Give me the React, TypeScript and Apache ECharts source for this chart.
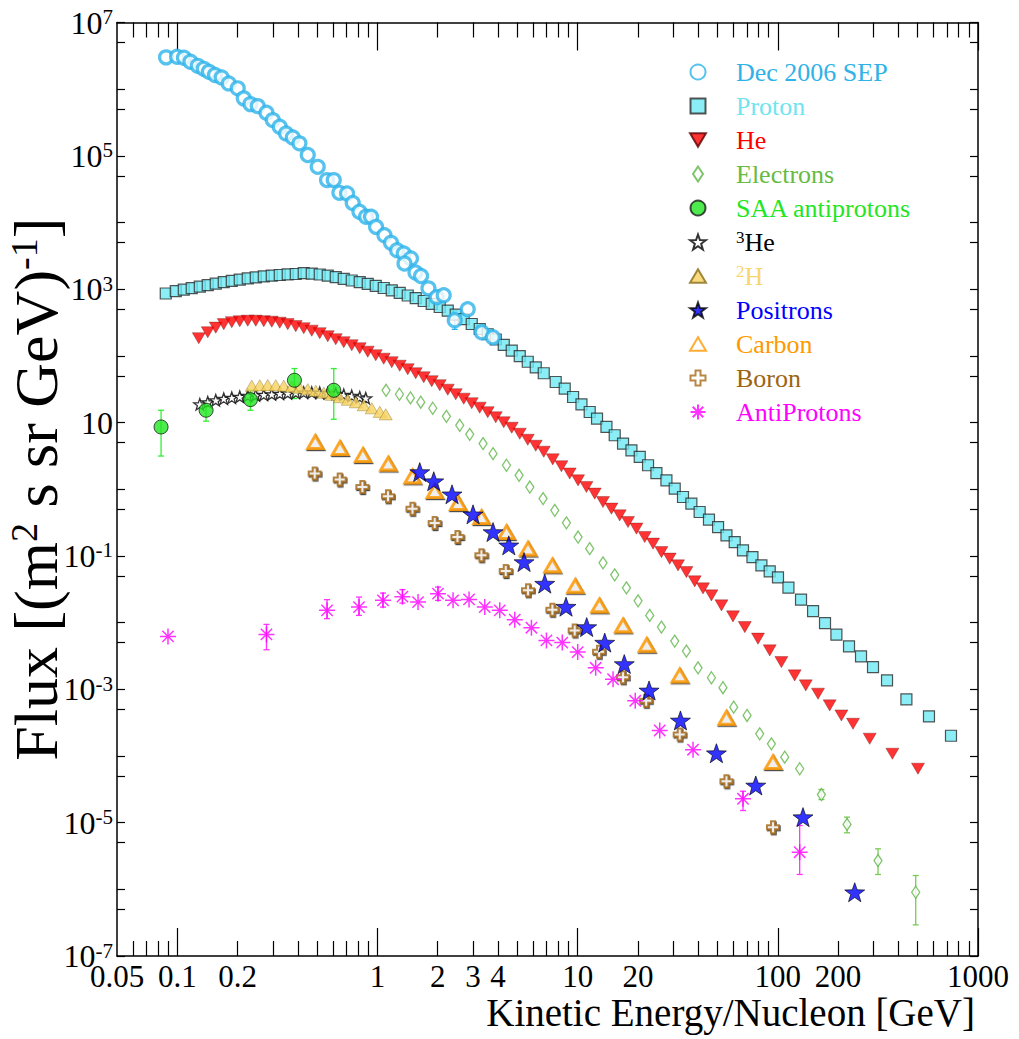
import React, { useEffect, useRef } from 'react';
import * as echarts from 'echarts';

// ---- Data: kinetic energy per nucleon [GeV] and flux [(m^2 s sr GeV)^-1] ----
const sepE = [0.0879, 0.0998, 0.108, 0.1164, 0.1266, 0.1356, 0.144, 0.1544, 0.1668, 0.1808, 0.2005, 0.2149, 0.232, 0.2524, 0.279, 0.3, 0.325, 0.3495, 0.3776, 0.4077, 0.4486, 0.503, 0.56, 0.605, 0.6457, 0.705, 0.7526, 0.813, 0.877, 0.929, 0.984, 1.084, 1.169, 1.253, 1.353, 1.47, 1.365, 1.549, 1.651, 1.798, 1.978, 2.143, 2.432, 2.825, 3.32, 3.77];
const sepF = [3.0e6, 3.06e6, 2.96e6, 2.58e6, 2.24e6, 2.02e6, 1.82e6, 1.63e6, 1.5e6, 1.22e6, 1.03e6, 7.28e5, 5.97e5, 5.57e5, 4.43e5, 3.44e5, 2.73e5, 2.17e5, 1.89e5, 1.54e5, 1.03e5, 6.85e4, 4.33e4, 4.33e4, 2.79e4, 2.73e4, 1.97e4, 1.45e4, 1.22e4, 1.22e4, 8610, 6470, 4960, 3850, 3440, 2890, 2430, 1780, 1580, 1030, 760, 813, 343, 500, 226, 190];
const sepErrE = [2.432];
const sepErrLo = [250];
const sepErrHi = [470];

const protonE = [0.0876, 0.0983, 0.1078, 0.1181, 0.1296, 0.142, 0.1557, 0.1707, 0.1872, 0.2052, 0.225, 0.2467, 0.2705, 0.2965, 0.3251, 0.3563, 0.3907, 0.4283, 0.4697, 0.5149, 0.5646, 0.619, 0.6786, 0.744, 0.8157, 0.8944, 0.9806, 1.075, 1.179, 1.292, 1.417, 1.553, 1.703, 1.867, 2.047, 2.245, 2.461, 2.698, 2.958, 3.243, 3.556, 3.899, 4.275, 4.687, 5.139, 5.634, 6.177, 6.773, 7.77, 8.62, 9.49, 10.45, 11.49, 12.5, 13.93, 15.32, 16.86, 18.57, 20.43, 22.48, 24.75, 27.77, 30.55, 33.6, 37.0, 40.7, 45.3, 50.3, 55.4, 60.9, 67.0, 74.7, 82.8, 91.1, 100.2, 113, 130.6, 150, 172.1, 196.2, 226.8, 260.4, 298.9, 351.2, 438.9, 569, 733];
const protonF = [863, 934, 984, 1036, 1091, 1149, 1210, 1274, 1333, 1390, 1449, 1500, 1553, 1596, 1635, 1669, 1692, 1740, 1710, 1663, 1596, 1515, 1433, 1352, 1274, 1202, 1125, 1043, 960, 881, 805, 733, 666, 604, 541, 476, 415, 355, 301, 253, 211, 176, 146, 120, 99.2, 81.7, 67.1, 54.9, 40.6, 32.4, 24.2, 18.8, 14.4, 11.48, 8.59, 6.45, 4.84, 3.84, 3.05, 2.29, 1.75, 1.36, 1.02, 0.765, 0.609, 0.4555, 0.35, 0.2713, 0.2036, 0.1615, 0.1213, 0.0962, 0.0722, 0.0587, 0.0477, 0.0334, 0.0221, 0.01489, 0.00984, 0.00659, 0.0044, 0.00311, 0.00215, 0.00136, 7.05e-4, 3.92e-4, 2.01e-4];

const heE = [0.1281, 0.142, 0.1557, 0.1707, 0.1872, 0.2052, 0.225, 0.2467, 0.2705, 0.2965, 0.3251, 0.3563, 0.3907, 0.4283, 0.4697, 0.5149, 0.5646, 0.619, 0.6786, 0.744, 0.8157, 0.8944, 0.9806, 1.075, 1.179, 1.292, 1.417, 1.553, 1.703, 1.867, 2.047, 2.245, 2.461, 2.698, 2.958, 3.243, 3.556, 3.899, 4.275, 4.687, 5.139, 5.634, 6.177, 6.773, 7.51, 8.3, 9.13, 10.05, 11.07, 12.17, 13.39, 14.75, 16.23, 17.85, 19.67, 21.64, 23.81, 26.22, 28.84, 31.73, 34.95, 38.45, 42.3, 46.6, 52.3, 59.7, 68.4, 79.6, 91.1, 104.2, 121.4, 137.9, 158.8, 181.6, 207.8, 237.5, 287.7, 373.6, 501.4];
const heF = [184, 226, 265, 299, 320, 331, 337, 337, 331, 325.6, 314.6, 299, 279, 260, 238.6, 218.8, 197.2, 177.8, 160.3, 144.5, 130.3, 115.5, 102.3, 90.7, 80.3, 71.2, 63.1, 54.9, 47.8, 41.7, 36.3, 31.1, 26.6, 22.8, 19.5, 16.7, 14.3, 12.0, 10.1, 8.36, 6.79, 5.52, 4.49, 3.65, 2.81, 2.21, 1.72, 1.36, 1.08, 0.86, 0.643, 0.512, 0.406, 0.3224, 0.2567, 0.192, 0.1528, 0.1143, 0.091, 0.0722, 0.0573, 0.0416, 0.0326, 0.0256, 0.01813, 0.0124, 0.00857, 0.00574, 0.00383, 0.002556, 0.001614, 0.001143, 8.58e-4, 5.73e-4, 4.05e-4, 3.04e-4, 1.81e-4, 1.08e-4, 6.43e-5];

const electronE = [1.104, 1.288, 1.462, 1.646, 1.889, 2.211, 2.577, 2.891, 3.37, 3.78, 4.41, 5.1, 5.77, 6.72, 7.69, 8.79, 10.05, 11.49, 13.39, 15.32, 17.53, 20.04, 22.92, 26.22, 30.55, 34.95, 39.95, 46.6, 53.2, 60.2, 70.2, 81.2, 92.9, 108.3, 128.6, 165.1, 221.7, 316.6, 488.5];
const electronF = [30.5, 26.6, 23.4, 20.2, 16.4, 12.4, 9.11, 6.67, 4.84, 3.42, 2.29, 1.62, 1.08, 0.724, 0.483, 0.3136, 0.192, 0.1286, 0.0787, 0.052, 0.0332, 0.0212, 0.01283, 0.00857, 0.00528, 0.00374, 0.0021, 0.00149, 0.001055, 5.4e-4, 4.05e-4, 2.15e-4, 1.52e-4, 9.6e-5, 6.43e-5, 2.64e-5, 9.4e-6, 2.7e-6, 9.04e-7];
const electronErrE = [165.1, 221.7, 316.6, 488.5];
const electronErrLo = [2.22e-5, 7.04e-6, 1.67e-6, 2.93e-7];
const electronErrHi = [3.14e-5, 1.21e-5, 4.05e-6, 1.61e-6];

const saaE = [0.083, 0.1393, 0.232, 0.3849, 0.605];
const saaF = [8.59, 15.3, 22.1, 43.1, 30.5];
const saaErrLo = [3.15, 10.5, 15.3, 22.9, 11.2];
const saaErrHi = [15.3, 20.9, 30.5, 64.6, 64.6];

const he3E = [0.1296, 0.142, 0.1557, 0.1707, 0.1872, 0.2052, 0.225, 0.2467, 0.2705, 0.2965, 0.3251, 0.3563, 0.3907, 0.4283, 0.4697, 0.5149, 0.5646, 0.619, 0.6786, 0.744, 0.8157, 0.874];
const he3F = [18.8, 20.2, 21.6, 22.8, 23.6, 24.4, 25.2, 25.7, 26.1, 26.6, 27.1, 27.5, 28.0, 28.2, 28.2, 28.0, 27.5, 27.1, 26.1, 25.2, 24.0, 23.2];

const h2E = [0.2356, 0.2583, 0.2831, 0.3105, 0.3404, 0.3731, 0.4091, 0.4486, 0.4917, 0.5393, 0.5911, 0.6482, 0.7106, 0.7791, 0.8542, 0.9365, 1.027, 1.1];
const h2F = [35.7, 36.3, 36.5, 36.3, 35.7, 34.4, 33.3, 31.6, 30.0, 28.0, 26.1, 24.0, 22.0, 20.2, 18.2, 16.4, 14.5, 13.3];

const positronE = [1.627, 1.911, 2.358, 3.003, 3.78, 4.53, 5.4, 6.85, 8.75, 11.1, 13.66, 17.1, 22.74, 32.63, 49.35, 77.6, 133.6, 242.2];
const positronF = [1.81, 1.32, 0.84, 0.4206, 0.228, 0.1441, 0.0809, 0.0384, 0.01733, 0.00857, 0.00501, 0.00239, 9.61e-4, 3.41e-4, 1.1e-4, 3.61e-5, 1.21e-5, 9.04e-7];

const carbonE = [0.489, 0.65, 0.846, 1.132, 1.496, 1.932, 2.527, 3.307, 4.41, 5.65, 7.48, 9.73, 12.84, 16.86, 22.14, 32.36, 55.4, 94.6];
const carbonF = [5.12, 4.16, 3.26, 2.42, 1.56, 0.941, 0.622, 0.383, 0.228, 0.1286, 0.0722, 0.0356, 0.01813, 0.00909, 0.00463, 0.001614, 3.74e-4, 8.07e-5];

const boronE = [0.486, 0.648, 0.841, 1.129, 1.496, 1.932, 2.51, 3.307, 4.375, 5.65, 7.48, 9.67, 12.79, 16.86, 21.99, 32.36, 55.4, 94.6];
const boronF = [1.72, 1.4, 1.08, 0.783, 0.512, 0.3114, 0.192, 0.102, 0.0593, 0.0305, 0.01563, 0.00764, 0.00367, 0.00152, 6.71e-4, 2.1e-4, 4.18e-5, 8.54e-6];

const antiprotonE = [0.0899, 0.279, 0.56, 0.809, 1.066, 1.333, 1.595, 2.007, 2.386, 2.868, 3.436, 4.083, 4.852, 5.877, 6.985, 8.38, 10.01, 12.31, 15.03, 19.4, 25.71, 37.71, 67.0, 128.6];
const antiprotonF = [0.00621, 0.00666, 0.01526, 0.0171, 0.02155, 0.02449, 0.02032, 0.02716, 0.02155, 0.0223, 0.0171, 0.01526, 0.01106, 0.00839, 0.00541, 0.00501, 0.00361, 0.0021, 0.001416, 6.73e-4, 2.41e-4, 1.24e-4, 2.28e-5, 3.6e-6];
const antiprotonErrE = [0.279, 0.56, 0.809, 1.066, 1.333, 2.007, 67.0, 128.6];
const antiprotonErrLo = [0.00392, 0.01145, 0.01283, 0.0171, 0.01963, 0.02155, 1.52e-5, 1.67e-6];
const antiprotonErrHi = [0.0094, 0.02208, 0.02415, 0.02773, 0.0312, 0.03412, 2.96e-5, 9.06e-6];

// Axis ticks and labels
const xLabelValues = [0.05, 0.1, 0.2, 1, 2, 3, 4, 10, 20, 100, 200, 1000];
const xMajorTicks = [0.1, 1, 10, 100, 1000];
const yLabelExponents = [7, 5, 3, 1, -1, -3, -5, -7];
const X_MIN = 0.05;
const X_MAX = 1000;

const FONT = '"Liberation Serif", "Times New Roman", serif';
const lg = Math.log10;

const points = (e: number[], f: number[]) => {
  const n = Math.min(e.length, f.length);
  const out: number[][] = [];
  for (let i = 0; i < n; i++) out.push([lg(e[i]), lg(f[i])]);
  return out;
};

const bars = (e: number[], lo: number[], hi: number[]) =>
  e.map((v, i) => [lg(v), lg(lo[i]), lg(hi[i])]);

// Marker outlines (paths keep their aspect ratio in the legend as well)
const STAR = 'path://M0,-10 L2.35,-3.24 L9.51,-3.09 L3.8,1.24 L5.88,8.09 L0,4 L-5.88,8.09 L-3.8,1.24 L-9.51,-3.09 L-2.35,-3.24 Z';
const CROSS = 'path://M-1,-3 L1,-3 L1,-1 L3,-1 L3,1 L1,1 L1,3 L-1,3 L-1,1 L-3,1 L-3,-1 L-1,-1 Z';
const ASTERISK = 'path://M0,-10 L0,10 M-10,0 L10,0 M-7.07,-7.07 L7.07,7.07 M-7.07,7.07 L7.07,-7.07';
const SQUARE = 'path://M0,0 L10,0 L10,10 L0,10 Z';
const TRI_UP = 'path://M0,0 L7,-12 L14,0 Z';
const TRI_DOWN = 'path://M0,0 L14,0 L7,12 Z';
const DIAMOND = 'path://M0,-6 L4,0 L0,6 L-4,0 Z';

const errorBarSeries = (data: number[][], color: string, cap: number) => ({
  type: 'custom',
  silent: true,
  z: 1,
  data,
  encode: { x: 0, y: [1, 2] },
  renderItem: (_params: any, api: any) => {
    const x = api.value(0);
    const top = api.coord([x, api.value(2)]);
    const bot = api.coord([x, api.value(1)]);
    const style = { stroke: color, lineWidth: 1.3 };
    return {
      type: 'group',
      children: [
        { type: 'line', shape: { x1: top[0], y1: top[1], x2: bot[0], y2: bot[1] }, style },
        { type: 'line', shape: { x1: top[0] - cap, y1: top[1], x2: top[0] + cap, y2: top[1] }, style },
        { type: 'line', shape: { x1: bot[0] - cap, y1: bot[1], x2: bot[0] + cap, y2: bot[1] }, style },
      ],
    };
  },
});

const shade = { shadowColor: 'rgba(0,0,0,0.85)', shadowOffsetX: 0.8, shadowOffsetY: 1.2, shadowBlur: 0.5 };

function buildOption() {
  const xMinor: number[] = [];
  for (let d = -2; d <= 2; d++) {
    for (let m = 2; m <= 9; m++) {
      const v = lg(m) + d;
      if (v > lg(X_MIN) + 1e-6 && v < lg(X_MAX)) xMinor.push(v);
    }
  }
  const yTicks: number[] = [];
  for (let n = -7; n <= 7; n++) {
    yTicks.push(n);
    if (n < 7) yTicks.push(n + lg(5));
  }

  const lineStyle = { color: '#000', width: 1.5 };
  const tickLine = { color: '#000', width: 1.2 };
  const xBase = { type: 'value', min: lg(X_MIN), max: lg(X_MAX), splitLine: { show: false } };
  const yBase = { type: 'value', min: -7, max: 7, splitLine: { show: false } };

  const fmtX = (v: number) => String(parseFloat(Math.pow(10, v).toPrecision(3)));
  const fmtY = (v: number) => {
    const n = Math.round(v);
    return n === 1 ? '10' : '10{sup|' + n + '}';
  };

  const scatter = (name: string, data: number[][], extra: any) => ({
    name,
    type: 'scatter',
    silent: true,
    z: 2,
    symbolKeepAspect: true,
    data,
    ...extra,
  });

  const legendItems = [
    { name: 'Dec 2006 SEP', color: '#2fb2e8' },
    { name: 'Proton', color: '#72e4f0' },
    { name: 'He', color: '#ff0000' },
    { name: 'Electrons', color: '#66bb44' },
    { name: 'SAA antiprotons', color: '#22e622' },
    { name: '3He', color: '#000000' },
    { name: '2H', color: '#f8d66d' },
    { name: 'Positrons', color: '#0000ff' },
    { name: 'Carbon', color: '#ff9900' },
    { name: 'Boron', color: '#9c6512' },
    { name: 'AntiProtons', color: '#ff00ff' },
  ];

  return {
    animation: false,
    backgroundColor: '#ffffff',
    textStyle: { fontFamily: FONT },
    grid: { left: 117, right: 41, top: 22.5, bottom: 83, containLabel: false, outerBoundsMode: 'none' },
    xAxis: [
      {
        ...xBase,
        position: 'bottom',
        axisLine: { show: true, onZero: false, lineStyle },
        axisTick: { show: true, inside: true, length: 28, lineStyle: tickLine, customValues: xMajorTicks.map(lg) },
        axisLabel: {
          show: true,
          customValues: xLabelValues.map(lg),
          formatter: fmtX,
          fontSize: 31,
          fontFamily: FONT,
          color: '#000',
          margin: 5,
        },
      },
      {
        ...xBase,
        position: 'bottom',
        axisLine: { show: false, onZero: false },
        axisTick: { show: true, inside: true, length: 15, lineStyle: tickLine, customValues: xMinor },
        axisLabel: { show: false },
      },
      {
        ...xBase,
        position: 'top',
        axisLine: { show: true, onZero: false, lineStyle },
        axisTick: { show: true, inside: true, length: 28, lineStyle: tickLine, customValues: xMajorTicks.map(lg) },
        axisLabel: { show: false },
      },
      {
        ...xBase,
        position: 'top',
        axisLine: { show: false, onZero: false },
        axisTick: { show: true, inside: true, length: 15, lineStyle: tickLine, customValues: xMinor },
        axisLabel: { show: false },
      },
    ],
    yAxis: [
      {
        ...yBase,
        position: 'left',
        axisLine: { show: true, onZero: false, lineStyle },
        axisTick: { show: true, inside: true, length: 8, lineStyle: tickLine, customValues: yTicks },
        axisLabel: {
          show: true,
          customValues: yLabelExponents,
          formatter: fmtY,
          fontSize: 32,
          fontFamily: FONT,
          color: '#000',
          margin: 4,
          rich: { sup: { fontSize: 21, fontFamily: FONT, color: '#000', verticalAlign: 'top' } },
        },
        name: 'Flux [(m{sup|2} s sr GeV){sup|-1}]',
        nameLocation: 'middle',
        nameGap: 50,
        nameMoveOverlap: false,
        nameTextStyle: {
          fontSize: 62,
          fontFamily: FONT,
          color: '#000',
          rich: { sup: { fontSize: 38, fontFamily: FONT, color: '#000', verticalAlign: 'top' } },
        },
      },
      {
        ...yBase,
        position: 'right',
        axisLine: { show: true, onZero: false, lineStyle },
        axisTick: { show: true, inside: true, length: 8, lineStyle: tickLine, customValues: yTicks },
        axisLabel: { show: false },
      },
    ],
    legend: {
      orient: 'vertical',
      left: 684,
      top: 54,
      itemWidth: 16,
      itemHeight: 15,
      itemGap: 8,
      selectedMode: false,
      textStyle: {
        fontSize: 26,
        fontFamily: FONT,
        padding: [0, 0, 0, 25],
        rich: {
          supK: { fontSize: 17, fontFamily: FONT, color: '#000000', verticalAlign: 'top' },
          supY: { fontSize: 17, fontFamily: FONT, color: '#f8d66d', verticalAlign: 'top' },
        },
      },
      formatter: (name: string) => (name === '3He' ? '{supK|3}He' : name === '2H' ? '{supY|2}H' : name),
      data: legendItems.map((it) => ({ name: it.name, textStyle: { color: it.color } })),
    },
    graphic: [
      {
        type: 'text',
        right: 44,
        top: 993,
        style: { text: 'Kinetic Energy/Nucleon [GeV]', font: '39px "Liberation Serif", serif', fill: '#000' },
      },
    ],
    series: [
      errorBarSeries(bars(saaE, saaErrLo, saaErrHi), '#33ee33', 3),
      errorBarSeries(bars(electronErrE, electronErrLo, electronErrHi), '#77cc55', 3),
      errorBarSeries(bars(antiprotonErrE, antiprotonErrLo, antiprotonErrHi), '#ff33ff', 3),
      errorBarSeries(bars(sepErrE, sepErrLo, sepErrHi), '#2fb2e8', 3),
      scatter('Proton', points(protonE, protonF), {
        symbol: SQUARE,
        symbolSize: 11,
        itemStyle: { color: '#6ee8f2', borderColor: '#2a2a2a', borderWidth: 1.2 },
      }),
      scatter('He', points(heE, heF), {
        symbol: TRI_DOWN,
        symbolSize: 13,
        itemStyle: { color: '#ff0000', borderColor: '#5a0000', borderWidth: 0.4 },
      }),
      scatter('Electrons', points(electronE, electronF), {
        symbol: DIAMOND,
        symbolSize: 12,
        itemStyle: { color: '#ffffff', borderColor: '#5fb548', borderWidth: 1.3 },
      }),
      scatter('3He', points(he3E, he3F), {
        symbol: STAR,
        symbolSize: 12,
        itemStyle: { color: '#ffffff', borderColor: '#000000', borderWidth: 1.3 },
      }),
      scatter('2H', points(h2E, h2F), {
        symbol: TRI_UP,
        symbolSize: 13,
        itemStyle: { color: '#f6d25e', borderColor: '#8a6d1a', borderWidth: 0.5 },
      }),
      scatter('SAA antiprotons', points(saaE, saaF), {
        symbol: 'circle',
        symbolSize: 14,
        itemStyle: { color: '#22e622', borderColor: '#1a1a1a', borderWidth: 1 },
      }),
      scatter('Carbon', points(carbonE, carbonF), {
        symbol: TRI_UP,
        symbolSize: 15,
        itemStyle: { color: '#ffffff', borderColor: '#ff9900', borderWidth: 3, ...shade },
      }),
      scatter('Boron', points(boronE, boronF), {
        symbol: CROSS,
        symbolSize: 12,
        itemStyle: { color: '#ffffff', borderColor: '#a5691a', borderWidth: 2, ...shade },
      }),
      scatter('AntiProtons', points(antiprotonE, antiprotonF), {
        symbol: ASTERISK,
        symbolSize: 16,
        itemStyle: { color: 'rgba(0,0,0,0)', borderColor: '#ff00ff', borderWidth: 1.5 },
      }),
      scatter('Positrons', points(positronE, positronF), {
        symbol: STAR,
        symbolSize: 20,
        itemStyle: { color: '#0000ff', borderColor: '#000000', borderWidth: 0.8 },
      }),
      scatter('Dec 2006 SEP', points(sepE, sepF), {
        symbol: 'circle',
        symbolSize: 13,
        itemStyle: { color: '#ffffff', borderColor: '#2db3ea', borderWidth: 3.2 },
      }),
    ],
  };
}

export default function App() {
  const ref = useRef<HTMLDivElement>(null);
  useEffect(() => {
    if (!ref.current) return;
    const chart = echarts.init(ref.current, undefined, { renderer: 'svg' });
    chart.setOption(buildOption() as any);
    return () => chart.dispose();
  }, []);
  return <div ref={ref} style={{ width: 1019, height: 1039, position: 'absolute', left: 0, top: 0 }} />;
}
